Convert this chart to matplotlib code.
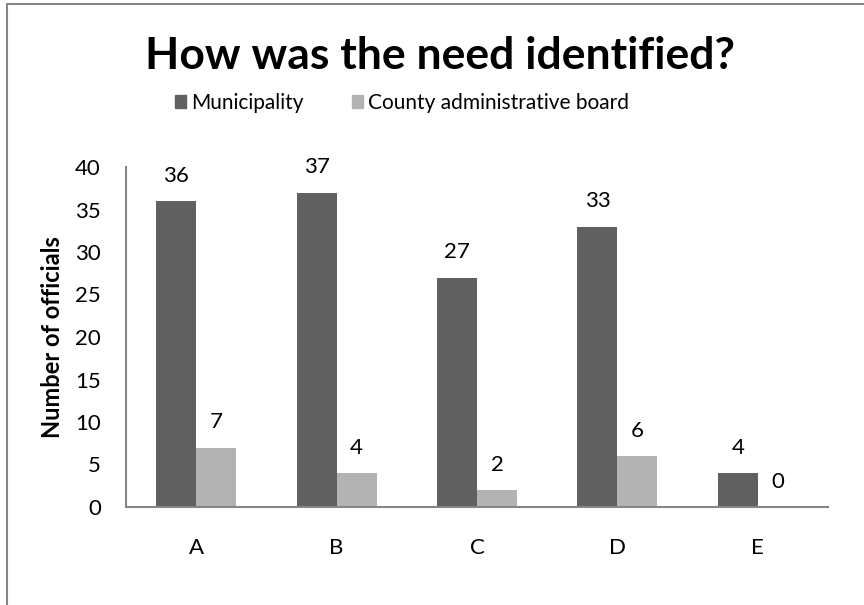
import matplotlib
matplotlib.use("Agg")
import matplotlib.pyplot as plt
from matplotlib.patches import Patch, Rectangle

categories = ["A", "B", "C", "D", "E"]
municipality = [36, 37, 27, 33, 4]
county_board = [7, 4, 2, 6, 0]
series_names = ["Municipality", "County administrative board"]

plt.rcParams["font.family"] = ["Lato", "DejaVu Sans"]

DARK = "#606060"
LIGHT = "#b3b3b3"
AXIS = "#868686"

fig = plt.figure(figsize=(8.64, 6.05), dpi=100)
ax = fig.add_axes([126 / 864, 1 - 507 / 605, 702 / 864, 340 / 605])

x = list(range(len(categories)))
w = 0.285
bars1 = ax.bar([i - w / 2 for i in x], municipality, w, color=DARK)
bars2 = ax.bar([i + w / 2 for i in x], county_board, w, color=LIGHT)

for bars in (bars1, bars2):
    for b in bars:
        ax.annotate(f"{int(b.get_height())}",
                    (b.get_x() + b.get_width() / 2, b.get_height()),
                    xytext=(0, 11), textcoords="offset points",
                    ha="center", va="bottom", fontsize=16)

ax.set_xlim(-0.5, len(categories) - 0.5)
ax.set_ylim(0, 40)
ax.set_yticks(range(0, 41, 5))
ax.set_xticks(x)
ax.set_xticklabels(categories)
ax.tick_params(axis="both", length=0, labelsize=16)
ax.tick_params(axis="x", pad=22)
ax.tick_params(axis="y", pad=18)
for side in ("top", "right"):
    ax.spines[side].set_visible(False)
for side in ("left", "bottom"):
    ax.spines[side].set_color(AXIS)
    ax.spines[side].set_linewidth(1.5)

ax.set_ylabel("Number of officials", fontsize=17, fontweight="bold", labelpad=8)

fig.text(440 / 864, 1 - 56 / 605, "How was the need identified?",
         ha="center", va="center", fontsize=32, fontweight="bold")

handles = [Patch(color=DARK), Patch(color=LIGHT)]
fig.legend(handles, series_names, loc="center", ncol=2, frameon=False,
           bbox_to_anchor=(402 / 864, 1 - 103 / 605), fontsize=15,
           handlelength=0.55, handleheight=0.55, handletextpad=0.25,
           columnspacing=2.3)

# outer chart border
fig.patches.append(Rectangle((7 / 864, -0.1), 1.1, 1 - 4 / 605 + 0.1,
                             transform=fig.transFigure, fill=False,
                             edgecolor=AXIS, linewidth=1.5))

fig.savefig("out.png", dpi=100)
